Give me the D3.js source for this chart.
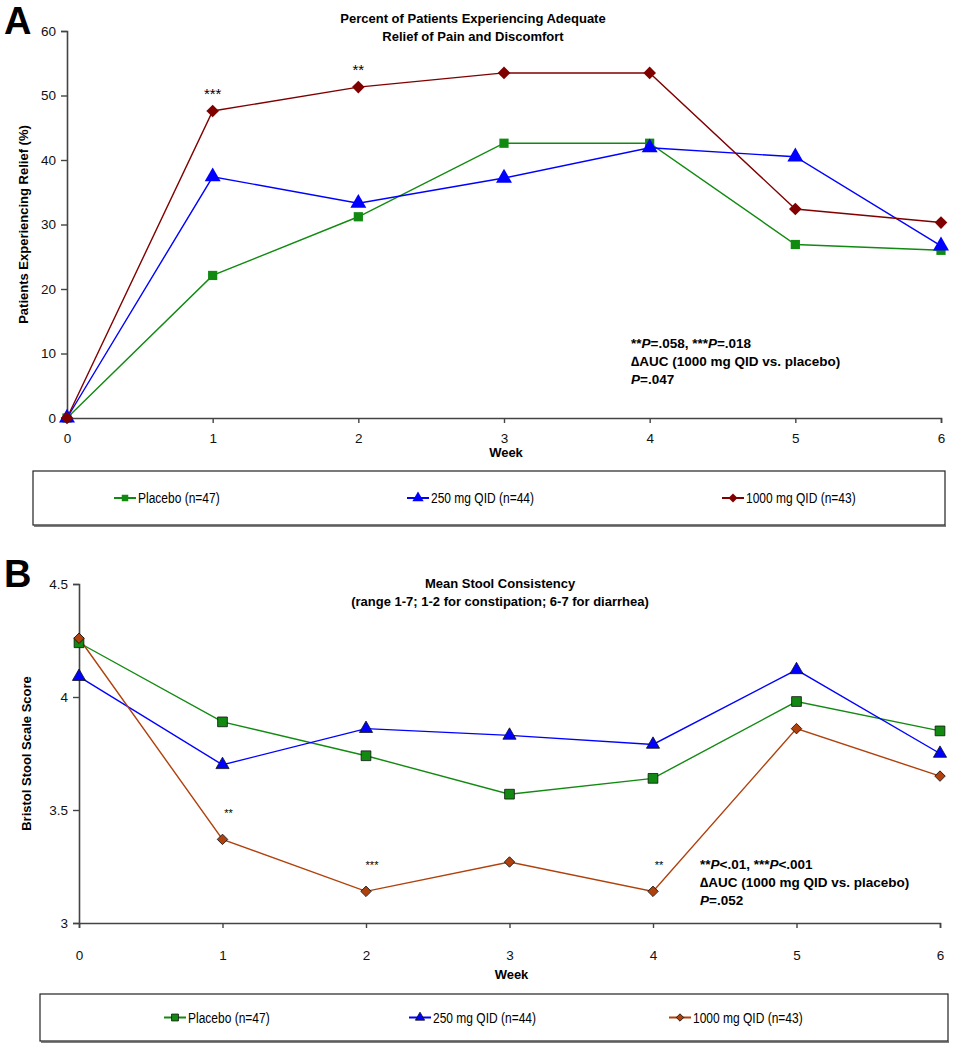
<!DOCTYPE html>
<html>
<head>
<meta charset="utf-8">
<script src="https://cdn.jsdelivr.net/npm/d3@7"></script>
<style>
  body { margin: 0; background: #fff; }
  svg { display: block; font-family: "Liberation Sans", Arial, sans-serif; }
</style>
</head>
<body>
<svg id="chart" width="963" height="1050"></svg>
<script>
// Weeks shared by both panels
const weeks = [0, 1, 2, 3, 4, 5, 6];
const seriesNames = ["Placebo (n=47)", "250 mg QID (n=44)", "1000 mg QID (n=43)"];

// Panel A: percent of patients experiencing adequate relief
const reliefPlacebo = [0, 22.1, 31.2, 42.6, 42.6, 26.9, 26.0];
const relief250 = [0, 37.4, 33.3, 37.2, 41.9, 40.5, 26.7];
const relief1000 = [0, 47.6, 51.3, 53.5, 53.5, 32.4, 30.3];
const reliefTicks = [0, 10, 20, 30, 40, 50, 60];
const reliefStars = [{ week: 1, label: "***" }, { week: 2, label: "**" }];

// Panel B: mean stool consistency
const stoolPlacebo = [4.24, 3.89, 3.74, 3.57, 3.64, 3.98, 3.85];
const stool250 = [4.09, 3.70, 3.86, 3.83, 3.79, 4.12, 3.75];
const stool1000 = [4.26, 3.37, 3.14, 3.27, 3.14, 3.86, 3.65];
const stoolTicks = [3, 3.5, 4, 4.5];
const stoolStars = [{ week: 1, label: "**" }, { week: 2, label: "***" }, { week: 4, label: "**" }];

const svg = d3.select("#chart");
// square, triangle, diamond (a square turned 45 degrees)
const shapes = [d3.symbolSquare, d3.symbolTriangle, d3.symbolSquare];
const rotations = [0, 0, 45];

function drawPanel(cfg) {
  const x = d3.scaleLinear().domain([0, 6]).range([cfg.left, cfg.right]);
  const y = d3.scaleLinear().domain(cfg.yDomain).range([cfg.bottom, cfg.top]);
  const g = svg.append("g");

  // panel letter
  g.append("text").attr("x", 4).attr("y", cfg.top + 3)
    .attr("font-size", 38).attr("font-weight", "bold").text(cfg.letter);

  // titles
  cfg.title.forEach((t, i) => {
    g.append("text").attr("x", cfg.titleX).attr("y", cfg.titleY + i * 18)
      .attr("text-anchor", "middle").attr("font-size", 13).attr("font-weight", "bold").text(t);
  });

  // axes
  const yAxis = g.append("g").attr("transform", `translate(${cfg.left},0)`)
    .call(d3.axisLeft(y).tickValues(cfg.yTicks).tickSize(6).tickPadding(5)
      .tickFormat(d => String(d)));
  const xAxis = g.append("g").attr("transform", `translate(0,${cfg.bottom})`)
    .call(d3.axisBottom(x).tickValues(weeks).tickSize(5).tickPadding(cfg.xPad)
      .tickFormat(d3.format("d")));
  [yAxis, xAxis].forEach(a => {
    a.select(".domain").attr("stroke", "#444").attr("stroke-width", 1.6);
    a.selectAll(".tick line").attr("stroke", "#444").attr("stroke-width", 1.4);
    a.selectAll(".tick text").attr("font-size", 13.5).attr("fill", "#111")
      .attr("font-family", "Liberation Sans, Arial, sans-serif");
  });

  // axis labels
  g.append("text").attr("x", (cfg.left + cfg.right) / 2 + 2).attr("y", cfg.weekY)
    .attr("text-anchor", "middle").attr("font-size", 13).attr("font-weight", "bold").text("Week");
  g.append("text")
    .attr("transform", `translate(${cfg.yLabelX},${(cfg.top + cfg.bottom) / 2}) rotate(-90)`)
    .attr("text-anchor", "middle").attr("font-size", 13).attr("font-weight", "bold").text(cfg.yLabel);

  // lines + markers
  const line = d3.line().x((d, i) => x(weeks[i])).y(d => y(d));
  cfg.series.forEach((vals, s) => {
    g.append("path").datum(vals).attr("d", line)
      .attr("fill", "none").attr("stroke", cfg.colors[s]).attr("stroke-width", 1.4);
  });
  cfg.series.forEach((vals, s) => {
    g.selectAll(null).data(vals).join("path")
      .attr("transform", (d, i) => `translate(${x(weeks[i])},${y(d)}) rotate(${rotations[s]})`)
      .attr("d", d3.symbol().type(shapes[s]).size(cfg.sizes[s]))
      .attr("fill", cfg.colors[s])
      .attr("stroke", cfg.markerStroke || "none").attr("stroke-width", 0.8);
  });

  // significance stars
  cfg.stars.forEach(st => {
    const idx = weeks.indexOf(st.week);
    g.append("text").attr("x", x(st.week) + cfg.starDx).attr("y", y(cfg.series[2][idx]) + cfg.starDy)
      .attr("text-anchor", "middle").attr("font-size", cfg.starSize).text(st.label);
  });

  // annotation
  const ann = g.append("text").attr("font-size", 13.5).attr("font-weight", "bold");
  cfg.note.forEach((parts, i) => {
    const t = ann.append("tspan").attr("x", cfg.noteX).attr("y", cfg.noteY + i * 18);
    parts.forEach(p => {
      t.append("tspan").attr("font-style", p.i ? "italic" : "normal").text(p.t);
    });
  });

  // legend
  const lg = g.append("g");
  lg.append("rect").attr("x", cfg.legend.x).attr("y", cfg.legend.y)
    .attr("width", cfg.legend.w).attr("height", cfg.legend.h)
    .attr("fill", "#fff").attr("stroke", "#222").attr("stroke-width", 1.2);
  lg.append("line").attr("x1", cfg.legend.x + 1).attr("x2", cfg.legend.x + cfg.legend.w + 1)
    .attr("y1", cfg.legend.y + cfg.legend.h + 1).attr("y2", cfg.legend.y + cfg.legend.h + 1)
    .attr("stroke", "#555").attr("stroke-width", 1.5);
  const cy = cfg.legend.y + cfg.legend.h / 2;
  seriesNames.forEach((name, s) => {
    const mx = cfg.legend.items[s];
    lg.append("line").attr("x1", mx - 11).attr("x2", mx + 11).attr("y1", cy).attr("y2", cy)
      .attr("stroke", cfg.colors[s]).attr("stroke-width", 2);
    lg.append("path").attr("transform", `translate(${mx},${cy}) rotate(${rotations[s]})`)
      .attr("d", d3.symbol().type(shapes[s]).size(cfg.sizes[s] * 0.5))
      .attr("fill", cfg.colors[s])
      .attr("stroke", cfg.markerStroke || "none").attr("stroke-width", 0.8);
    // narrow legend lettering, as in the original
    lg.append("text").attr("transform", `translate(${mx + 13},${cy + 5}) scale(0.8,1)`)
      .attr("font-size", 15).text(name);
  });
}

drawPanel({
  letter: "A",
  left: 67, right: 941, top: 31, bottom: 418,
  yDomain: [0, 60], yTicks: reliefTicks,
  xPad: 10, weekY: 457, yLabelX: 28,
  yLabel: "Patients Experiencing Relief (%)",
  title: ["Percent of Patients Experiencing Adequate", "Relief of Pain and Discomfort"],
  titleX: 473, titleY: 23,
  series: [reliefPlacebo, relief250, relief1000],
  colors: ["#108a10", "#0000ff", "#800000"],
  sizes: [85, 110, 80],
  stars: reliefStars, starDx: 0, starDy: -12, starSize: 15,
  note: [
    [{ t: "**" }, { t: "P", i: true }, { t: "=.058, ***" }, { t: "P", i: true }, { t: "=.018" }],
    [{ t: "\u2206AUC (1000 mg QID vs. placebo)" }],
    [{ t: "P", i: true }, { t: "=.047" }]
  ],
  noteX: 631, noteY: 348,
  legend: { x: 33, y: 471, w: 912, h: 54, items: [125, 418, 733] }
});

drawPanel({
  letter: "B",
  left: 79, right: 940, top: 584, bottom: 923,
  yDomain: [3, 4.5], yTicks: stoolTicks,
  xPad: 22, weekY: 979, yLabelX: 31,
  yLabel: "Bristol Stool Scale Score",
  title: ["Mean Stool Consistency", "(range 1-7; 1-2 for constipation; 6-7 for diarrhea)"],
  titleX: 500, titleY: 588,
  series: [stoolPlacebo, stool250, stool1000],
  colors: ["#128a12", "#0000ff", "#b0400c"],
  sizes: [95, 75, 55],
  markerStroke: "#111",
  stars: stoolStars, starDx: 6, starDy: -22, starSize: 11,
  note: [
    [{ t: "**" }, { t: "P", i: true }, { t: "<.01, ***" }, { t: "P", i: true }, { t: "<.001" }],
    [{ t: "\u2206AUC (1000 mg QID vs. placebo)" }],
    [{ t: "P", i: true }, { t: "=.052" }]
  ],
  noteX: 700, noteY: 869,
  legend: { x: 40, y: 994, w: 908, h: 47, items: [175, 420, 680] }
});
</script>
</body>
</html>
